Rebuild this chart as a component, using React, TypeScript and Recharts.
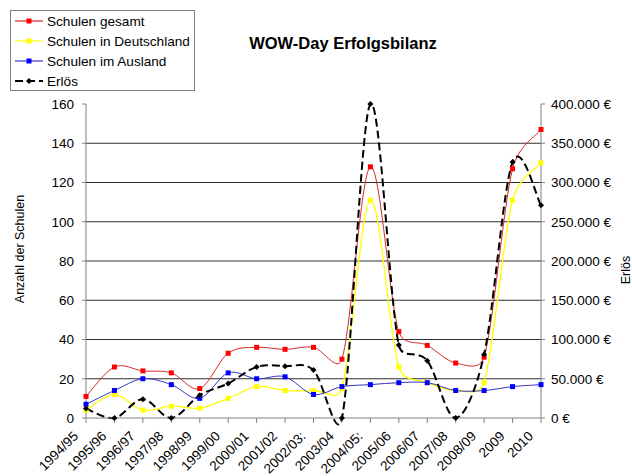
import React from "react";
import { LineChart, Line, XAxis, YAxis, CartesianGrid, Legend } from "recharts";

// school years on the x axis
const categories = [
  "1994/95", "1995/96", "1996/97", "1997/98", "1998/99", "1999/00", "2000/01",
  "2001/02", "2002/03:", "2003/04", "2004/05:", "2005/06", "2006/07", "2007/08",
  "2008/09", "2009", "2010",
];

// number of schools (left axis)
const schulenGesamt = [11, 26, 24, 23, 15, 33, 36, 35, 36, 30, 128, 44, 37, 28, 31, 127, 147];
const schulenDeutschland = [4, 12, 4, 6, 5, 10, 16, 14, 14, 15, 111, 26, 18, 14, 18, 111, 130];
const schulenAusland = [7, 14, 20, 17, 10, 23, 20, 21, 12, 16, 17, 18, 18, 14, 14, 16, 17];

// revenue in euro (right axis)
const erloes = [12000, 0, 24000, 0, 29000, 44000, 65000, 66000, 61000, 0, 400000, 93000, 73000, 0, 81000, 326000, 271000];

const leftTicks = [0, 20, 40, 60, 80, 100, 120, 140, 160];
const gridValues = [20, 40, 60, 80, 100, 120, 140];
const rightTicks = [0, 50000, 100000, 150000, 200000, 250000, 300000, 350000, 400000];

const data = categories.map((jahr, i) => ({
  jahr,
  gesamt: schulenGesamt[i],
  deutschland: schulenDeutschland[i],
  ausland: schulenAusland[i],
  erloes: erloes[i],
}));

const FONT = "'Liberation Sans', Arial, sans-serif";

const euro = (v: number) =>
  (v === 0 ? "0" : String(v).replace(/\B(?=(\d{3})+(?!\d))/g, ".")) + " \u20ac";

const dist = (a: number[], b: number[]) => Math.hypot(b[0] - a[0], b[1] - a[1]);

// smoothed line the way Excel does it: bezier arms of 1/6 of the neighbour
// distance, but never longer than half the segment (keeps overshoot down)
const excelSmooth = (context: any) => {
  let pts: number[][] = [];
  return {
    areaStart() {},
    areaEnd() {},
    lineStart() {
      pts = [];
    },
    point(x: number, y: number) {
      pts.push([+x, +y]);
    },
    lineEnd() {
      if (!pts.length) return;
      context.moveTo(pts[0][0], pts[0][1]);
      for (let i = 0; i < pts.length - 1; i++) {
        const p0 = pts[i - 1] || pts[i];
        const p1 = pts[i];
        const p2 = pts[i + 1];
        const p3 = pts[i + 2] || p2;
        const d12 = dist(p1, p2);
        const d02 = dist(p0, p2);
        const d13 = dist(p1, p3);
        let f0 = 1 / 6;
        let f3 = 1 / 6;
        if (d02 > 0 && d02 / 6 >= d12 / 2) f0 = d12 / d02 / 2;
        if (d13 > 0 && d13 / 6 >= d12 / 2) f3 = d12 / d13 / 2;
        context.bezierCurveTo(
          p1[0] + (p2[0] - p0[0]) * f0,
          p1[1] + (p2[1] - p0[1]) * f0,
          p2[0] - (p3[0] - p1[0]) * f3,
          p2[1] - (p3[1] - p1[1]) * f3,
          p2[0],
          p2[1]
        );
      }
    },
  };
};

const squareDot = (fill: string) => (props: any) => {
  const { cx, cy, index } = props;
  if (cx == null || cy == null) return <g key={index} />;
  return <rect key={index} x={cx - 2.5} y={cy - 2.5} width={5} height={5} fill={fill} />;
};

const diamondDot = (props: any) => {
  const { cx, cy, index } = props;
  if (cx == null || cy == null) return <g key={index} />;
  return (
    <polygon
      key={index}
      points={`${cx},${cy - 3} ${cx + 3},${cy} ${cx},${cy + 3} ${cx - 3},${cy}`}
      fill="#000"
    />
  );
};

const XTick = (props: any) => {
  const { x, y, payload } = props;
  const ax = x - 7;
  const ay = y + 14;
  return (
    <text
      x={ax}
      y={ay}
      transform={`rotate(-45 ${ax} ${ay})`}
      textAnchor="end"
      fontSize={13.5}
      fontFamily={FONT}
      fill="#000"
    >
      {payload.value}
    </text>
  );
};

const legendRows = [
  { label: "Schulen gesamt", line: "#d82828", marker: "#ff0000", dash: undefined, shape: "square" },
  { label: "Schulen in Deutschland", line: "#ffff00", marker: "#ffff00", dash: undefined, shape: "square" },
  { label: "Schulen im Ausland", line: "#3434c8", marker: "#0000ff", dash: undefined, shape: "square" },
  { label: "Erlös", line: "#000", marker: "#000", dash: "8 4", shape: "diamond" },
];

const LegendBox = () => (
  <div
    style={{
      border: "1px solid #808080",
      background: "#fff",
      width: 183,
      height: 79,
      boxSizing: "content-box",
      fontFamily: FONT,
      fontSize: 13.6,
      color: "#000",
    }}
  >
    {legendRows.map((r) => (
      <div key={r.label} style={{ height: 20, display: "flex", alignItems: "center" }}>
        <svg width={36} height={20} style={{ flex: "none" }}>
          <line
            x1={4}
            y1={10}
            x2={32}
            y2={10}
            stroke={r.line}
            strokeWidth={r.dash ? 2 : 1.2}
            strokeDasharray={r.dash}
          />
          {r.shape === "square" ? (
            <rect x={15.5} y={7.5} width={5} height={5} fill={r.marker} />
          ) : (
            <polygon points="18,7 21,10 18,13 15,10" fill="#000" />
          )}
        </svg>
        <span style={{ whiteSpace: "nowrap" }}>{r.label}</span>
      </div>
    ))}
  </div>
);

export default function App() {
  return (
    <div
      style={{
        position: "absolute",
        left: 0,
        top: 0,
        width: 632,
        height: 476,
        background: "#fff",
        fontFamily: FONT,
      }}
    >
      <LineChart
        width={632}
        height={476}
        data={data}
        margin={{ top: 104, right: 0, bottom: 0, left: 0 }}
      >
        <CartesianGrid
          yAxisId="left"
          vertical={false}
          horizontalValues={gridValues}
          stroke="#2e2e2e"
          strokeWidth={1}
        />
        <XAxis
          dataKey="jahr"
          height={58}
          interval={0}
          stroke="#808080"
          tickSize={5}
          tickMargin={0}
          tick={<XTick />}
        />
        <YAxis
          yAxisId="left"
          width={86}
          domain={[0, 160]}
          ticks={leftTicks}
          interval={0}
          stroke="#808080"
          tickSize={4}
          tickMargin={8}
          tick={{ fill: "#000", fontSize: 13.5, fontFamily: FONT }}
        />
        <YAxis
          yAxisId="right"
          orientation="right"
          width={91}
          domain={[0, 400000]}
          ticks={rightTicks}
          interval={0}
          stroke="#808080"
          tickSize={4}
          tickMargin={6}
          tickFormatter={euro}
          tick={{ fill: "#000", fontSize: 13.5, fontFamily: FONT }}
        />
        <Legend
          layout="vertical"
          align="center"
          verticalAlign="middle"
          wrapperStyle={{ left: 10, top: 10, width: 185, height: 81 }}
          content={() => <LegendBox />}
        />
        <Line
          yAxisId="left"
          dataKey="gesamt"
          name="Schulen gesamt"
          type={excelSmooth as any}
          stroke="#d82828"
          strokeWidth={1}
          dot={squareDot("#ff0000")}
          activeDot={false}
          isAnimationActive={false}
        />
        <Line
          yAxisId="left"
          dataKey="deutschland"
          name="Schulen in Deutschland"
          type={excelSmooth as any}
          stroke="#ffff00"
          strokeWidth={1.3}
          dot={squareDot("#ffff00")}
          activeDot={false}
          isAnimationActive={false}
        />
        <Line
          yAxisId="left"
          dataKey="ausland"
          name="Schulen im Ausland"
          type={excelSmooth as any}
          stroke="#3434c8"
          strokeWidth={1}
          dot={squareDot("#0000ff")}
          activeDot={false}
          isAnimationActive={false}
        />
        <Line
          yAxisId="right"
          dataKey="erloes"
          name="Erlös"
          type={excelSmooth as any}
          stroke="#000"
          strokeWidth={2}
          strokeDasharray="8 4"
          dot={diamondDot}
          activeDot={false}
          isAnimationActive={false}
        />
      </LineChart>
      <svg
        width={632}
        height={476}
        style={{ position: "absolute", left: 0, top: 0, pointerEvents: "none" }}
      >
        <text x={343} y={49} textAnchor="middle" fontSize={16.5} fontWeight="bold" fontFamily={FONT}>
          WOW-Day Erfolgsbilanz
        </text>
        <text
          x={24}
          y={249}
          transform="rotate(-90 24 249)"
          textAnchor="middle"
          fontSize={12.5}
          fontFamily={FONT}
        >
          Anzahl der Schulen
        </text>
        <text
          x={630}
          y={270}
          transform="rotate(-90 630 270)"
          textAnchor="middle"
          fontSize={12.5}
          fontFamily={FONT}
        >
          Erlös
        </text>
      </svg>
    </div>
  );
}
